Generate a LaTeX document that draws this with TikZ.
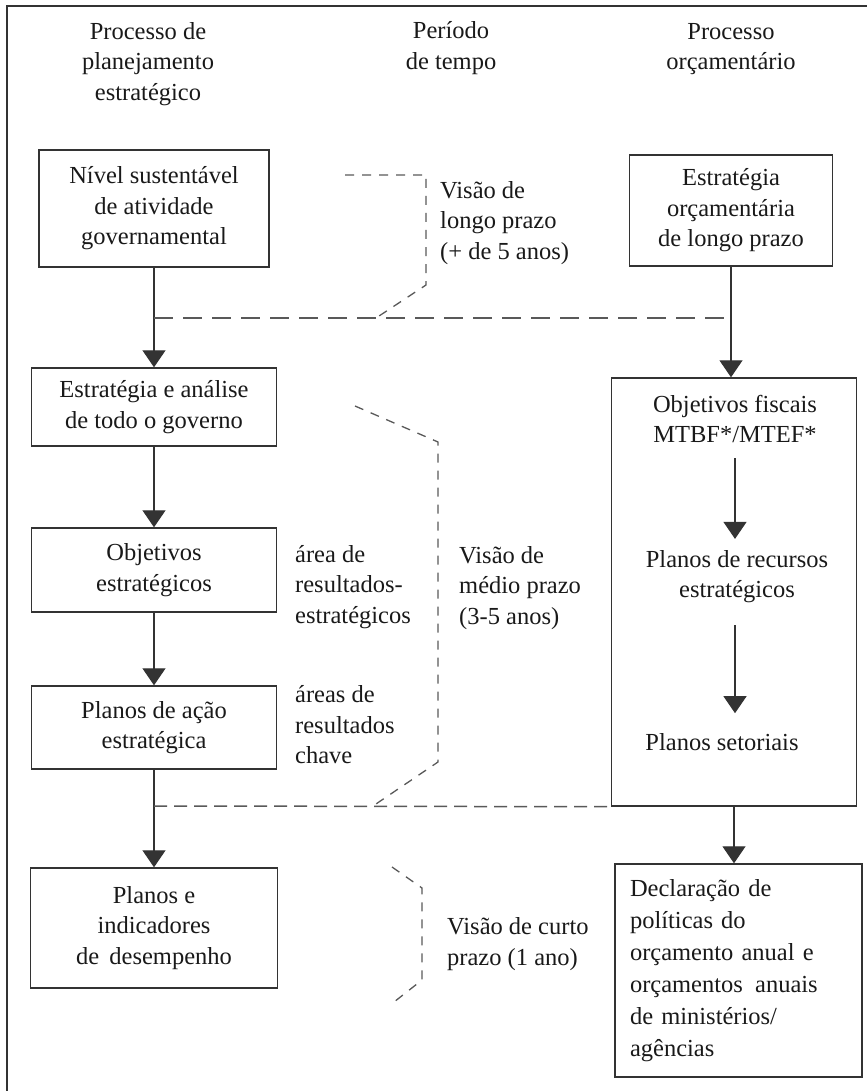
\documentclass[tikz,border=0pt]{standalone}
\usepackage{fontspec}
\setmainfont{Liberation Serif}
\usetikzlibrary{arrows.meta, positioning}

\begin{document}
\begin{tikzpicture}[
    x=1pt, y=-1pt,
    every node/.style={font=\fontsize{24.5}{30.5}\selectfont, text=black!90},
    box/.style={draw=black!80, line width=1.4pt, align=center, inner sep=0pt},
    lbl/.style={align=left, inner sep=0pt, anchor=west},
    arr/.style={draw=black!80, line width=1.2pt, -{Triangle[width=23pt, length=17pt]}},
    sep/.style={draw=black!65, line width=1.5pt, dash pattern=on 19pt off 10pt},
    brk/.style={draw=black!65, line width=1.3pt, dash pattern=on 9pt off 8pt}
]
\useasboundingbox (0,0) rectangle (867,1091);

% Frame
\draw[line width=1.8pt, black!80] (7,1091) -- (7,6) -- (867,6);

% Headers
\node[align=center] (hplan) at (148,64) {Processo de\\planejamento\\estratégico};
\node[align=center] (htempo) at (451,48) {Período\\de tempo};
\node[align=center] (horc) at (731,49) {Processo\\orçamentário};

% Nodes, left column
\node[box, minimum width=230pt, minimum height=117pt] (nivel) at (154,208.5) {Nível sustentável\\de atividade\\governamental};
\node[box, minimum width=245pt, minimum height=78pt] (analise) at (154,407) {Estratégia e análise\\de todo o governo};
\node[box, minimum width=245pt, minimum height=84pt] (objest) at (154,570) {Objetivos\\estratégicos};
\node[box, minimum width=245pt, minimum height=83pt] (acao) at (154,727.5) {Planos de ação\\estratégica};
\node[box, minimum width=247pt, minimum height=120pt] (desemp) at (154,928) {Planos e\\indicadores\\de\, desempenho};

% Nodes, right column
\node[box, minimum width=203pt, minimum height=111pt] (estorc) at (731,210.5) {Estratégia\\orçamentária\\de longo prazo};
\node[box, minimum width=245pt, minimum height=428pt] (fisc) at (734,592) {};
\node[align=center, inner sep=0pt] (objfisc) at (735,419) {Objetivos fiscais\\MTBF*/MTEF*};
\node[align=center, inner sep=0pt] (recursos) at (737,576.5) {Planos de recursos\\estratégicos};
\node[inner sep=0pt] (setor) at (722,742) {Planos setoriais};
\node[box, align=left, text width=217pt, inner xsep=15pt, minimum height=213pt,
      font=\fontsize{24.5}{32}\selectfont] (decl) at (738.5,970.5)
      {Declaração de\\políticas do\\orçamento anual e\\orçamentos\, anuais\\de ministérios/\\agências};

% Labels
\node[lbl] (vlongo) at (440,223) {Visão de\\longo prazo\\(+ de 5 anos)};
\node[lbl] (area1) at (295,587) {área de\\resultados-\\estratégicos};
\node[lbl] (area2) at (295,725) {áreas de\\resultados\\chave};
\node[lbl] (vmedio) at (459,588) {Visão de\\médio prazo\\(3-5 anos)};
\node[lbl] (vcurto) at (447,944) {Visão de curto\\prazo (1 ano)};

% Arrows
\draw[arr] (nivel) -- (analise);
\draw[arr] (analise) -- (objest);
\draw[arr] (objest) -- (acao);
\draw[arr] (acao) -- (desemp);
\draw[arr] (estorc.south) -- (estorc.south |- fisc.north);
\draw[arr] (fisc.south) -- (fisc.south |- decl.north);
\draw[arr, shorten <=12pt, shorten >=11pt] (objfisc.south |- 0,446) -- (objfisc.south |- recursos.north);
\draw[arr, shorten <=22pt, shorten >=20pt] (recursos.south -| objfisc) -- (objfisc |- setor.north);

% Period separators
\coordinate (s1w) at (154,318);
\coordinate (s1e) at (731,318);
\coordinate (s2w) at (154,806);
\draw[sep] (s1w) -- (s1e);
\draw[sep, dash pattern=on 13pt off 7pt] (s2w) -- (fisc.south west);

% Brackets
\draw[brk] (345,175) -- (426,175) -- (426,285) -- (376,318);
\draw[brk] (355,406) -- (438,442) -- (438,762) -- (373,806);
\draw[brk] (392,867) -- (422,888) -- (422,980) -- (394,1002);

\end{tikzpicture}
\end{document}
